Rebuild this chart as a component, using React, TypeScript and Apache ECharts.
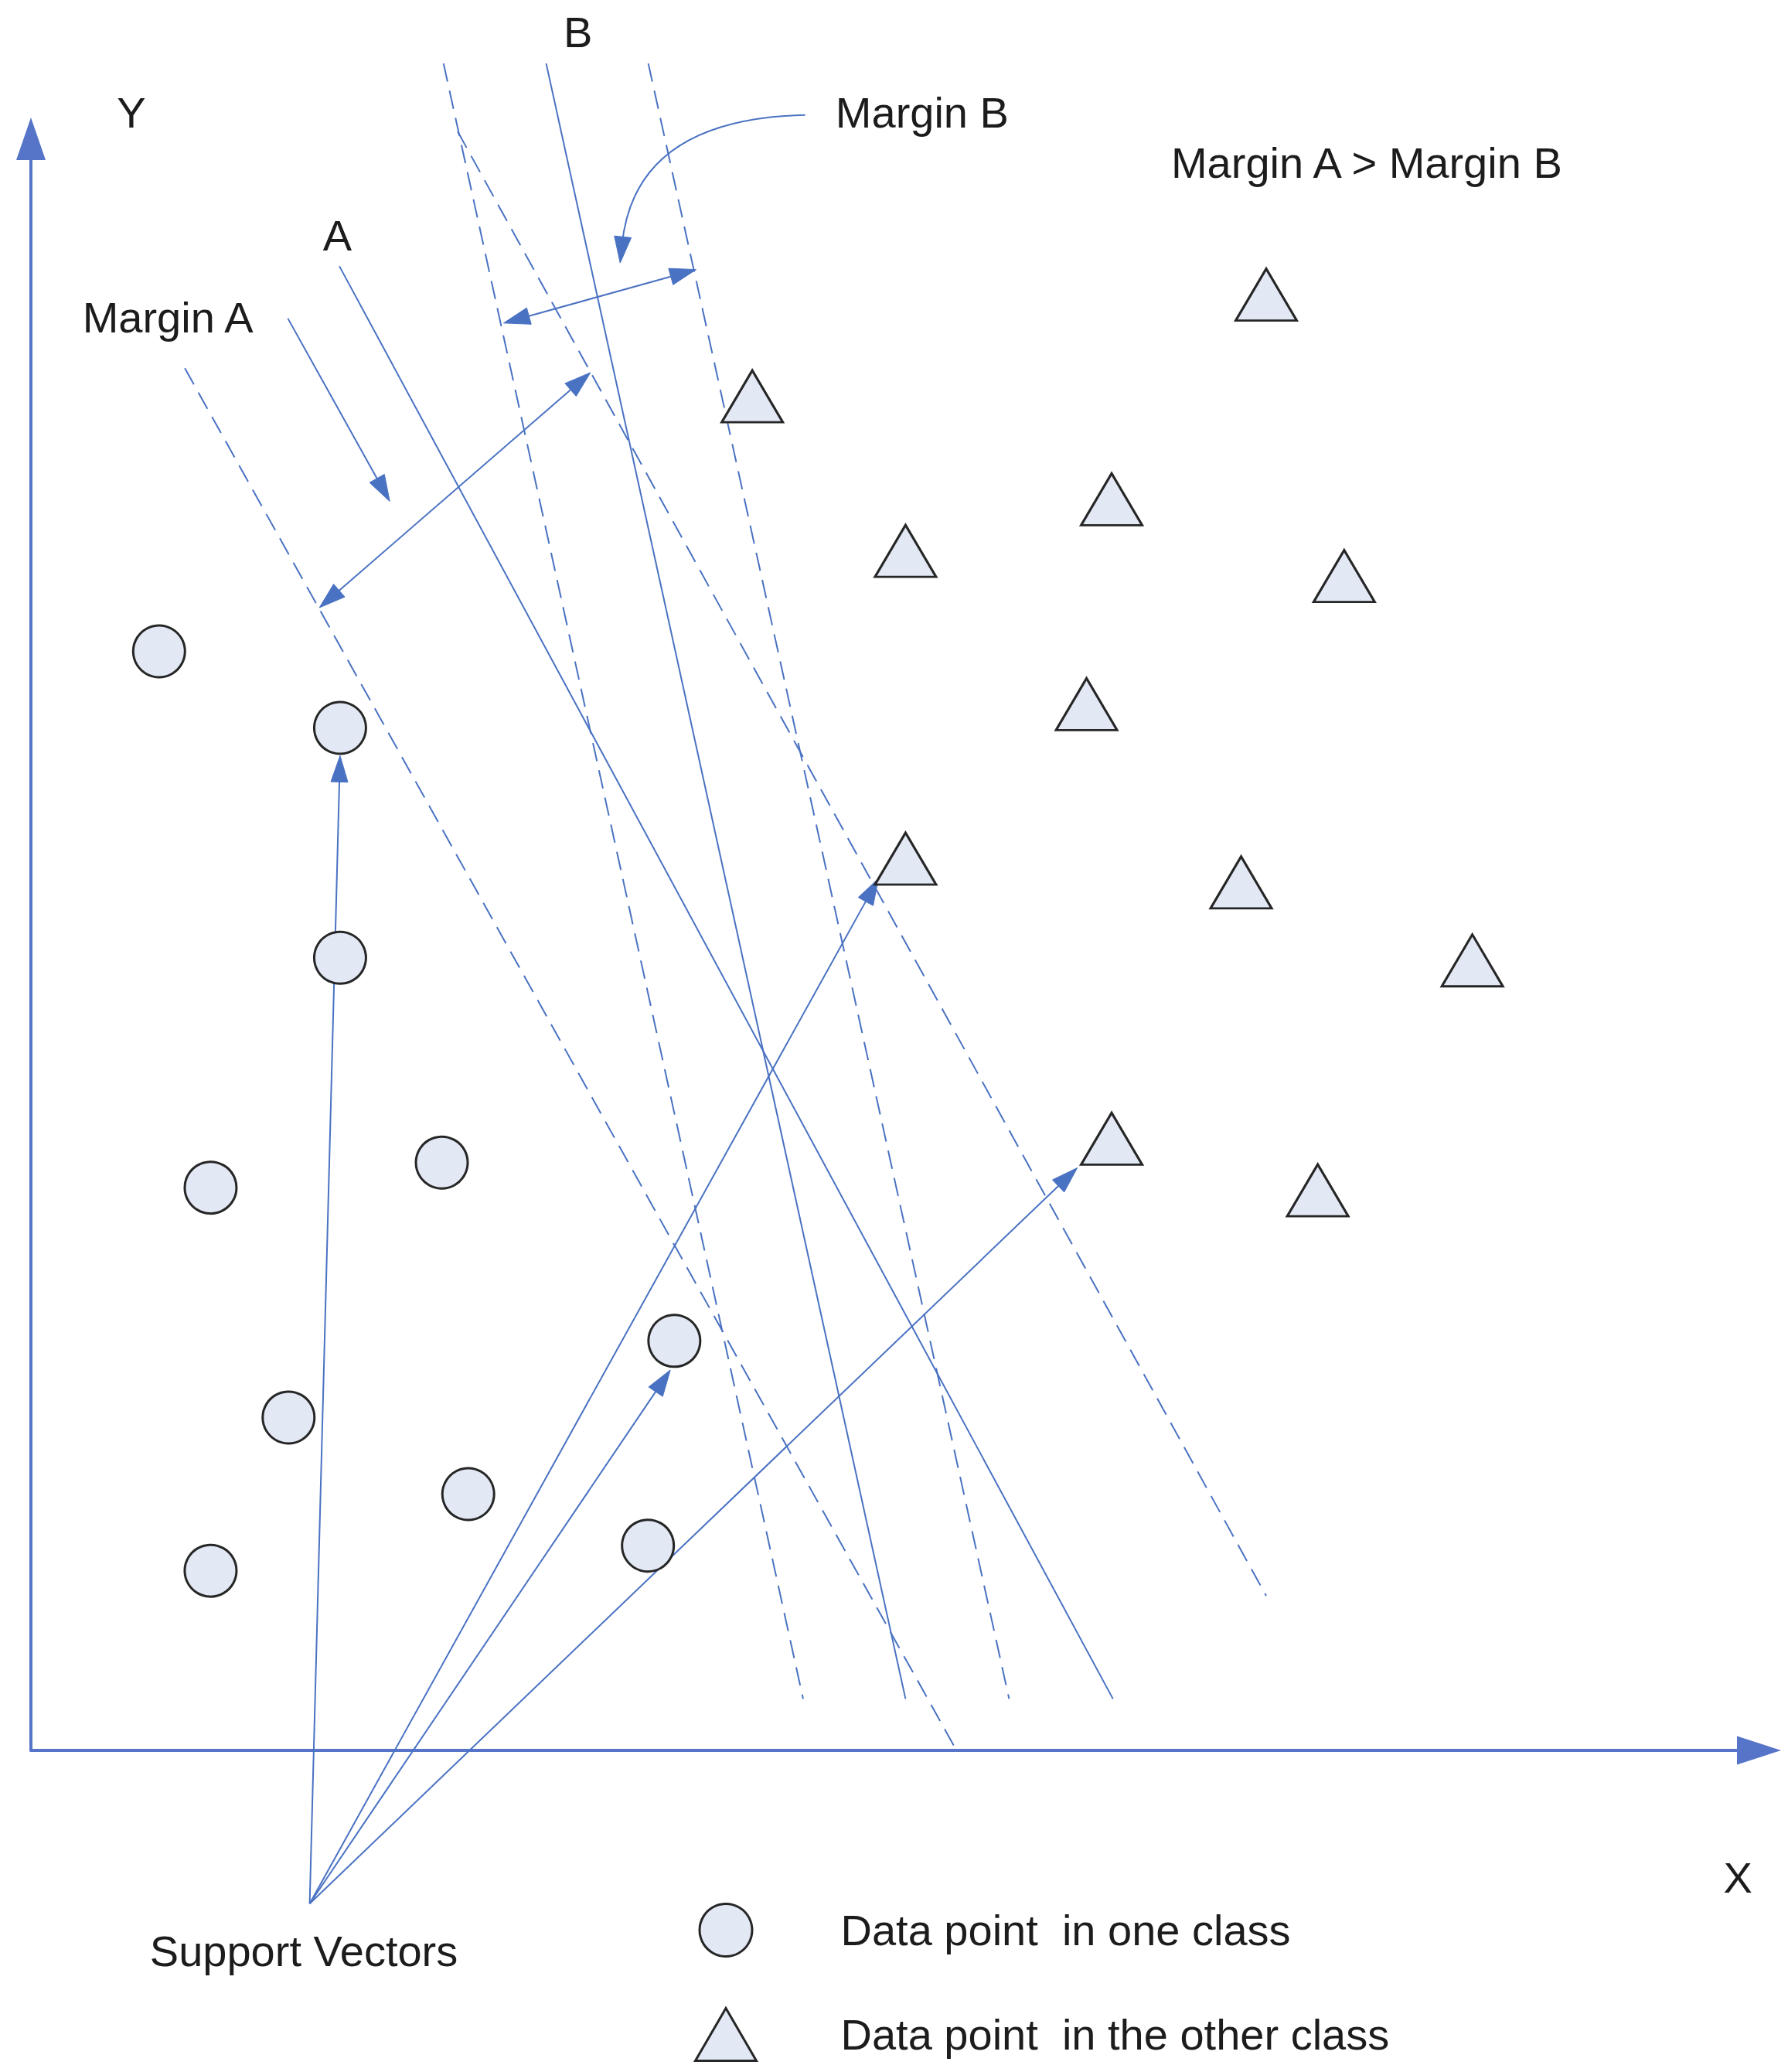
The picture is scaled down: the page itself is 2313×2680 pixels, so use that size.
import React, { useEffect, useRef } from "react";
import * as echarts from "echarts";

// ---- Diagram data (units: diagram coordinates, origin at the axes' corner, y up) ----
const circleClass: [number, number][] = [
  [97, 832], [234, 774], [234, 600], [136, 426], [311, 445],
  [487, 310], [195, 252], [331, 194], [467, 155], [136, 136],
];
const triangleClass: [number, number][] = [
  [935, 1102], [546, 1025], [818, 947], [662, 908], [994, 889], [799, 792],
  [662, 675], [916, 657], [1091, 598], [818, 463], [974, 424],
];

// Hyperplanes A and B (solid): [x1, y1, x2, y2]
const hyperplanes: number[][] = [
  [233.5, 1123.5, 819, 39],
  [390, 1277, 662, 39],
];
// Margin boundaries (dashed)
const marginLines: number[][] = [
  [116.5, 1046.3, 700.6, 0],
  [323, 1225.5, 935, 117],
  [312.3, 1277, 584.5, 39],
  [467.3, 1277, 740.4, 39],
];
// Double-headed margin arrows
const marginArrows: number[][] = [
  [218.3, 865, 423.5, 1043],
  [357.8, 1080.5, 503.5, 1121],
];
// Single-headed arrows (pointer to margin A, support vectors)
const pointerArrows: number[][] = [
  [194.5, 1084, 271.6, 945.5],
  [211, -116, 234, 753],
  [211, -116, 641.5, 660],
  [211, -116, 484, 288],
  [211, -116, 792, 441],
];
// Curved pointer to margin B: start, control, end
const curvedPointer: number[][] = [[586, 1238, 457, 1235, 446, 1126]];

const labelTexts = ["Y", "X", "B", "A", "Margin B", "Margin A > Margin B", "Margin A", "Support Vectors"];
const labelPositions: [number, number][] = [
  [76, 1240], [1292, -96], [414, 1301], [232, 1147],
  [609, 1240], [863, 1202], [39, 1085], [90, -152],
];
const labelAligns = ["center", "center", "center", "center", "left", "left", "left", "left"];

const seriesNames = ["Data point  in one class", "Data point  in the other class"];

const LINE = "#4a72c2";
const AXIS = "#5675c8";
const TEXT = "#1c1c1c";
const FONT = "'Liberation Sans', Arial, Helvetica, sans-serif";

function head(tip: number[], ux: number, uy: number, L: number, W: number) {
  const bx = tip[0] - ux * L;
  const by = tip[1] - uy * L;
  return {
    type: "polygon",
    shape: { points: [[tip[0], tip[1]], [bx - uy * W, by + ux * W], [bx + uy * W, by - ux * W]] },
    style: { fill: LINE, stroke: LINE, lineWidth: 1 },
  };
}

function arrowRenderer(both: boolean) {
  return (params: any, api: any) => {
    const p1 = api.coord([api.value(0), api.value(1)]);
    const p2 = api.coord([api.value(2), api.value(3)]);
    const dx = p2[0] - p1[0];
    const dy = p2[1] - p1[1];
    const len = Math.hypot(dx, dy);
    const ux = dx / len;
    const uy = dy / len;
    const L = 34;
    const W = 11;
    const children: any[] = [];
    let s = p1;
    const e = [p2[0] - ux * L * 0.7, p2[1] - uy * L * 0.7];
    if (both) s = [p1[0] + ux * L * 0.7, p1[1] + uy * L * 0.7];
    children.push({
      type: "line",
      shape: { x1: s[0], y1: s[1], x2: e[0], y2: e[1] },
      style: { stroke: LINE, lineWidth: 2, fill: "none" },
    });
    children.push(head(p2, ux, uy, L, W));
    if (both) children.push(head(p1, -ux, -uy, L, W));
    return { type: "group", children };
  };
}

function lineRenderer(dashed: boolean) {
  return (params: any, api: any) => {
    const p1 = api.coord([api.value(0), api.value(1)]);
    const p2 = api.coord([api.value(2), api.value(3)]);
    return {
      type: "line",
      shape: { x1: p1[0], y1: p1[1], x2: p2[0], y2: p2[1] },
      style: { stroke: LINE, lineWidth: 2, fill: "none", lineDash: dashed ? [24, 12] : null },
    };
  };
}

function curveRenderer(params: any, api: any) {
  const p0 = api.coord([api.value(0), api.value(1)]);
  const c = api.coord([api.value(2), api.value(3)]);
  const p1 = api.coord([api.value(4), api.value(5)]);
  const dx = p1[0] - c[0];
  const dy = p1[1] - c[1];
  const len = Math.hypot(dx, dy);
  const ux = dx / len;
  const uy = dy / len;
  const L = 34;
  return {
    type: "group",
    children: [
      {
        type: "bezierCurve",
        shape: { x1: p0[0], y1: p0[1], cpx1: c[0], cpy1: c[1], x2: p1[0] - ux * L * 0.7, y2: p1[1] - uy * L * 0.7 },
        style: { stroke: LINE, lineWidth: 2, fill: "none" },
      },
      head(p1, ux, uy, L, 11),
    ],
  };
}

function labelRenderer(params: any, api: any) {
  const p = api.coord([api.value(0), api.value(1)]);
  const i = params.dataIndex;
  return {
    type: "text",
    x: p[0],
    y: p[1],
    style: {
      text: labelTexts[i],
      fill: TEXT,
      fontSize: 56,
      fontFamily: FONT,
      align: labelAligns[i],
      verticalAlign: "middle",
    },
  };
}

export default function App() {
  const ref = useRef<HTMLDivElement>(null);
  useEffect(() => {
    document.body.style.margin = "0";
    if (!ref.current) return;
    const chart = echarts.init(ref.current, undefined, { renderer: "svg" });
    const axisCommon = {
      type: "value",
      axisTick: { show: false },
      axisLabel: { show: false },
      splitLine: { show: false },
    };
    chart.setOption({
      animation: false,
      backgroundColor: "#ffffff",
      grid: { left: 40, right: 37.5, top: 179.5, bottom: 416, containLabel: false },
      xAxis: {
        ...axisCommon,
        min: 0,
        max: 1308,
        axisLine: {
          show: true,
          onZero: false,
          symbol: ["none", "triangle"],
          symbolSize: [37, 57],
          lineStyle: { color: AXIS, width: 4 },
        },
      },
      yAxis: {
        ...axisCommon,
        min: 0,
        max: 1220,
        axisLine: {
          show: true,
          onZero: false,
          symbol: ["none", "triangle"],
          symbolSize: [38, 55],
          lineStyle: { color: AXIS, width: 4 },
        },
      },
      legend: {
        orient: "vertical",
        left: 893,
        top: 2456,
        itemWidth: 79,
        itemHeight: 68,
        itemGap: 64,
        symbolKeepAspect: false,
        selectedMode: false,
        itemStyle: { borderWidth: 3, borderColor: "#262626" },
        textStyle: { fontSize: 56, color: TEXT, fontFamily: FONT, padding: [0, 0, 0, 104] },
        data: seriesNames,
      },
      series: [
        {
          type: "custom",
          name: "hyperplanes",
          renderItem: lineRenderer(false),
          data: hyperplanes,
          clip: false,
          z: 2,
          silent: true,
        },
        {
          type: "custom",
          name: "margins",
          renderItem: lineRenderer(true),
          data: marginLines,
          clip: false,
          z: 2,
          silent: true,
        },
        {
          type: "custom",
          name: "marginArrows",
          renderItem: arrowRenderer(true),
          data: marginArrows,
          clip: false,
          z: 3,
          silent: true,
        },
        {
          type: "custom",
          name: "pointerArrows",
          renderItem: arrowRenderer(false),
          data: pointerArrows,
          clip: false,
          z: 3,
          silent: true,
        },
        {
          type: "custom",
          name: "curvedPointer",
          renderItem: curveRenderer,
          data: curvedPointer,
          clip: false,
          z: 3,
          silent: true,
        },
        {
          type: "custom",
          name: "labels",
          renderItem: labelRenderer,
          data: labelPositions,
          clip: false,
          z: 5,
          silent: true,
        },
        {
          type: "scatter",
          name: seriesNames[0],
          data: circleClass,
          symbol: "circle",
          symbolSize: 67,
          itemStyle: { color: "#e2e8f4", borderColor: "#262626", borderWidth: 3, opacity: 1 },
          z: 4,
          silent: true,
        },
        {
          type: "scatter",
          name: seriesNames[1],
          data: triangleClass,
          symbol: "triangle",
          symbolSize: [79, 67],
          itemStyle: { color: "#e2e8f4", borderColor: "#262626", borderWidth: 3, opacity: 1 },
          z: 4,
          silent: true,
        },
      ],
    });
    return () => chart.dispose();
  }, []);
  return <div ref={ref} style={{ width: 2313, height: 2680 }} />;
}
